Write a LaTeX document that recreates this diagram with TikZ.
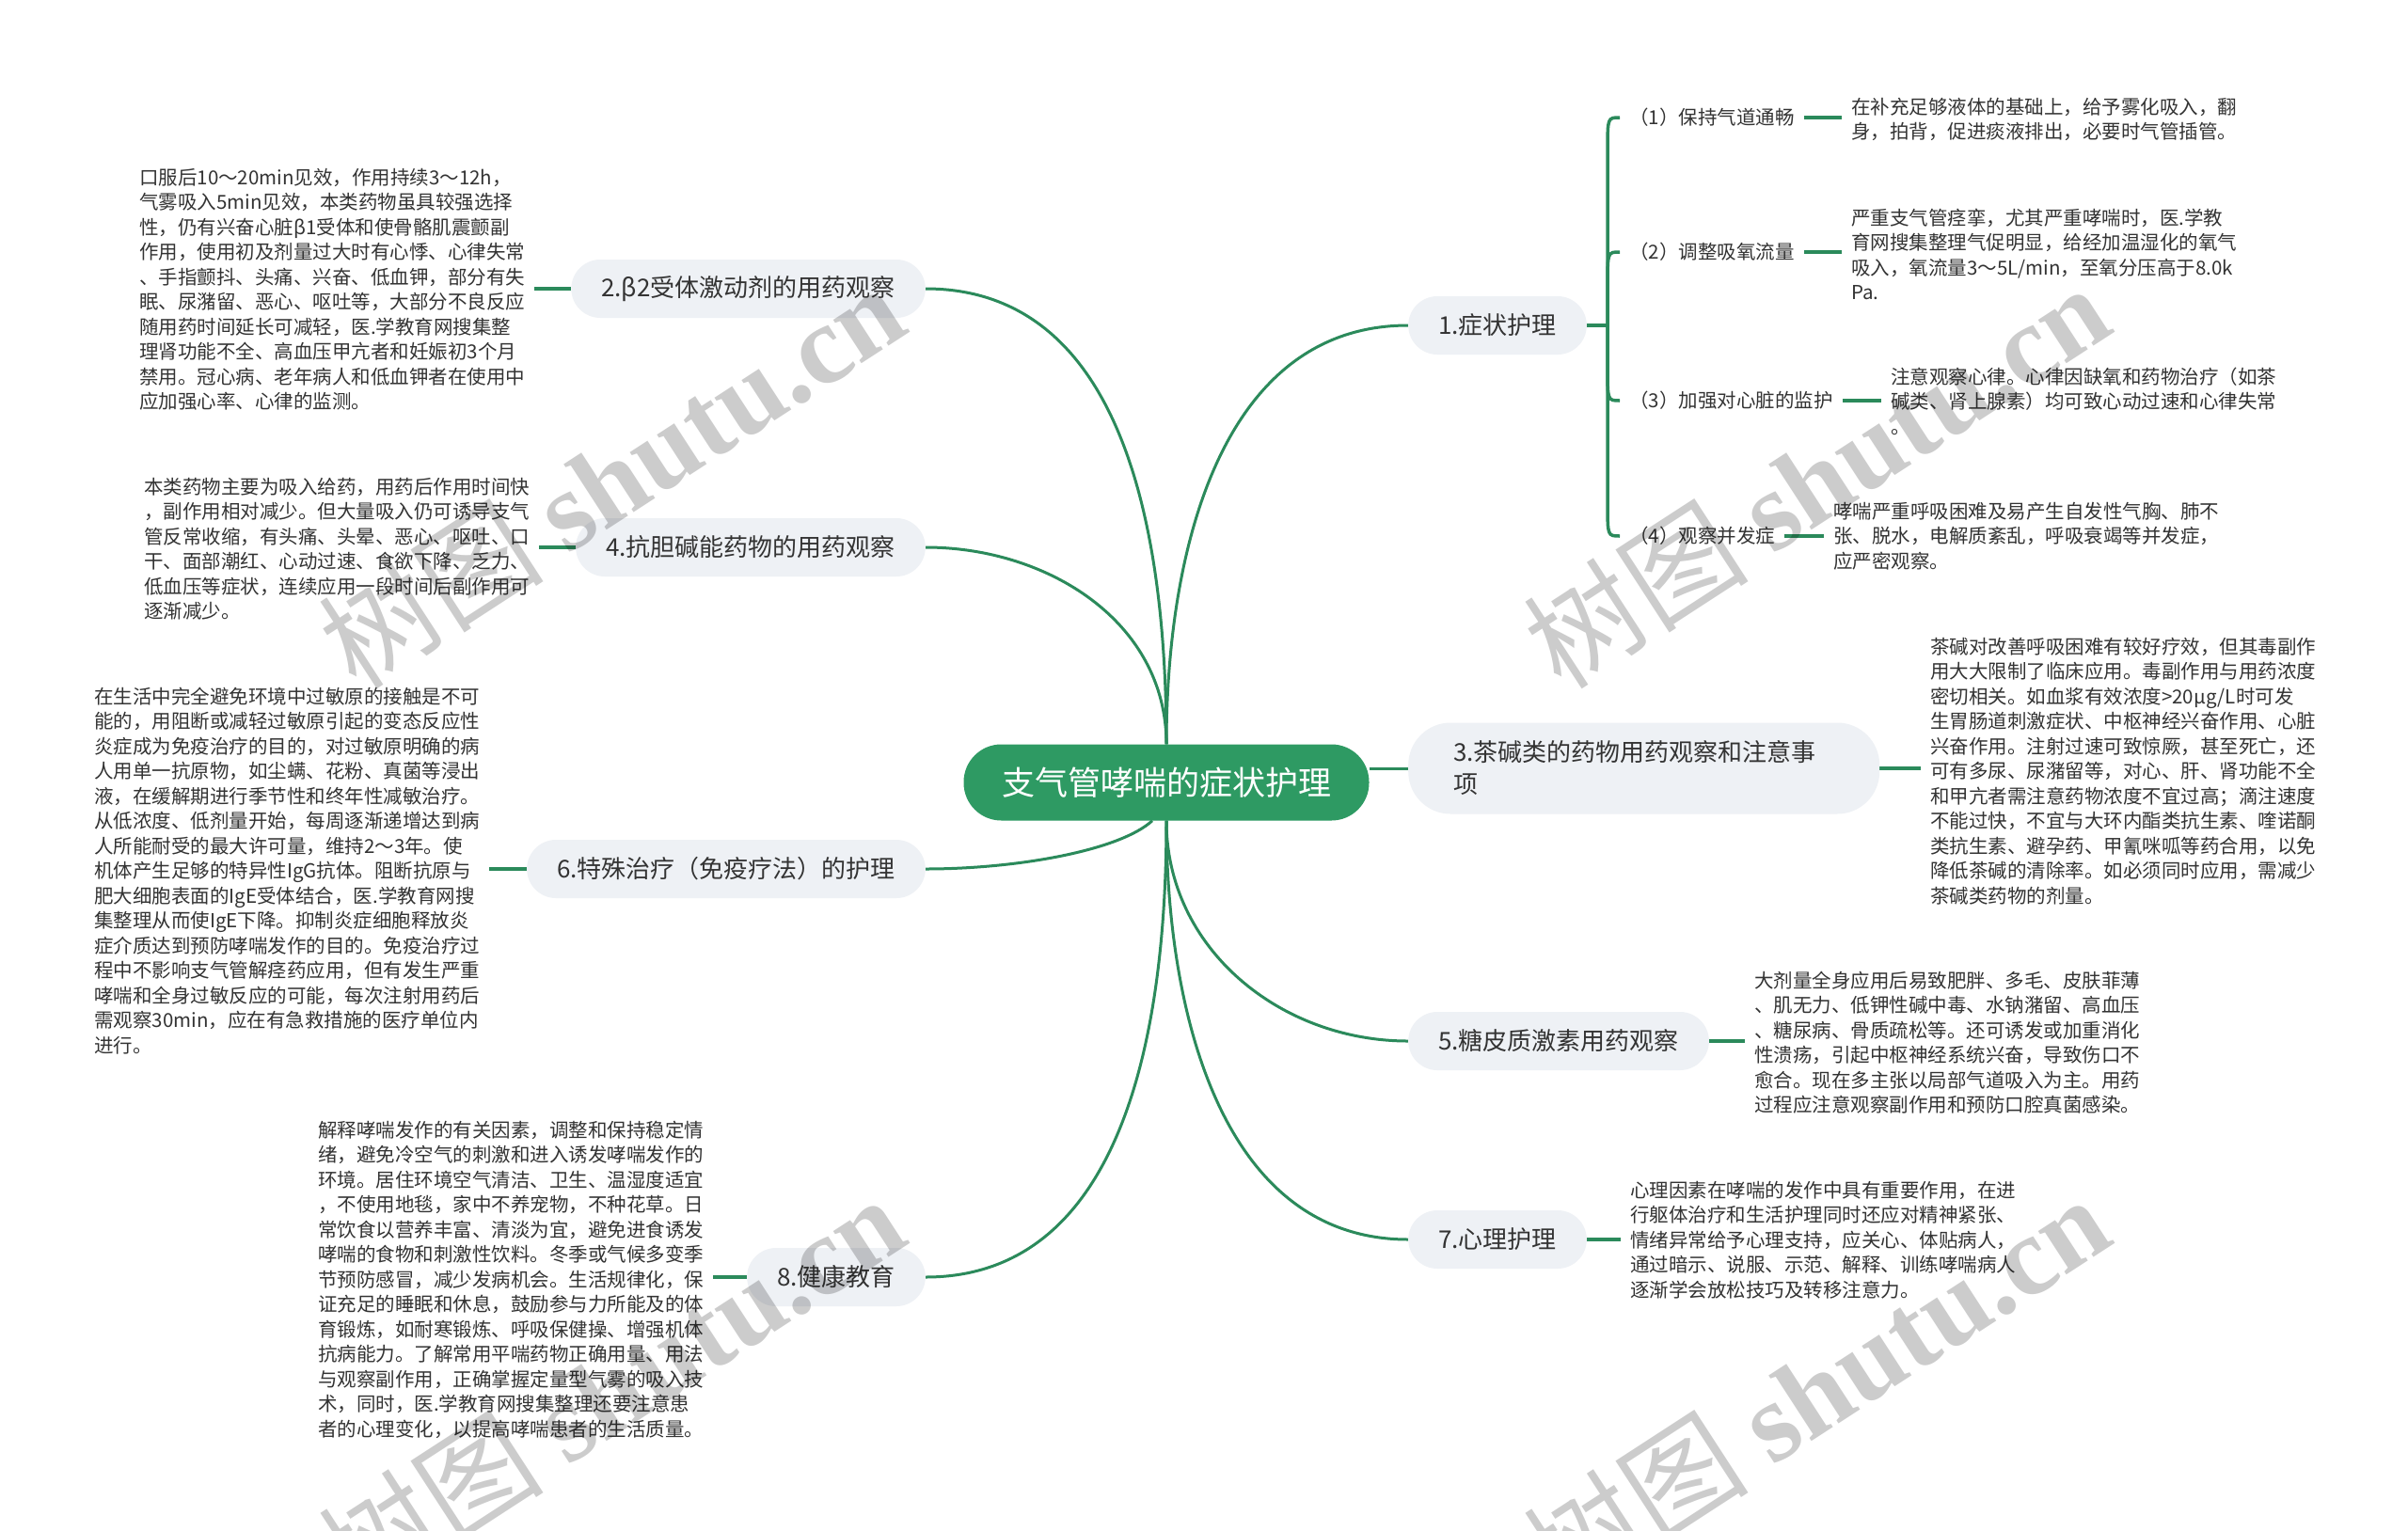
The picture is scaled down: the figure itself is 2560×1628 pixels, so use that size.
\documentclass[tikz,border=0pt]{standalone}
\usepackage{fontspec}
\setmainfont{Noto Sans CJK SC}
\newfontfamily\wmserif{Liberation Serif}
\usetikzlibrary{calc}
\definecolor{rootgreen}{HTML}{2E9A63}
\definecolor{linegreen}{HTML}{2B8A5B}
\definecolor{boxfill}{HTML}{EEF1F5}
\definecolor{txt}{HTML}{333333}
\newcommand{\bstrut}{\rule[-3.1pt]{0pt}{26pt}}
\newcommand{\cstrut}{\rule[-2.45pt]{0pt}{20.5pt}}
\newcommand{\rstrut}{\rule[-4.2pt]{0pt}{35pt}}
\newcommand{\mylines}[1]{\begin{tabular}[t]{@{}l@{}}#1\end{tabular}}
\pgfdeclarelayer{bg}
\pgfdeclarelayer{wmlayer}
\pgfsetlayers{bg,main,wmlayer}
\tikzset{
  rootbox/.style={fill=rootgreen, text=white, rounded corners=40pt, minimum width=431pt, minimum height=81pt, inner xsep=0pt, inner ysep=0pt, font=\fontsize{35}{42}\selectfont},
  branch/.style={fill=boxfill, text=txt, rounded corners=31pt, minimum height=62pt, inner xsep=32pt, inner ysep=0pt, font=\fontsize{26}{34}\selectfont},
  child/.style={text=txt, inner xsep=10pt, inner ysep=0pt, anchor=west, font=\fontsize{20.5}{26.5}\selectfont},
  leaf/.style={text=txt, inner xsep=10pt, inner ysep=0pt, anchor=base west, font=\fontsize{20.5}{26.5}\selectfont},
  conn/.style={draw=linegreen, line width=3pt},
  stub/.style={draw=linegreen, line width=3.5pt},
  wmark/.style={text=black, text opacity=0.2, rotate=33, inner sep=0pt, font=\fontsize{120}{140}\selectfont}
}
\begin{document}
\begin{tikzpicture}[x=1pt,y=-1pt]
\useasboundingbox (0,0) rectangle (2560,1628);
\begin{pgfonlayer}{bg}
\fill[white] (0,0) rectangle (2560,1628);
\end{pgfonlayer}

% root
\node[rootbox] (root) at (1240,832) {\rstrut 支气管哮喘的症状护理};

% branches
\node[branch, anchor=west] (n1) at (1497,346) {\bstrut 1.症状护理};
\node[branch, anchor=east] (n2) at (984,307) {\bstrut 2.β2受体激动剂的用药观察};
\node[branch, anchor=west, text width=405pt, align=left, rounded corners=45pt, minimum height=97pt, inner xsep=48pt] (n3) at (1497,817) {\bstrut 3.茶碱类的药物用药观察和注意事\\\bstrut 项};
\node[branch, anchor=east] (n4) at (984,582) {\bstrut 4.抗胆碱能药物的用药观察};
\node[branch, anchor=west] (n5) at (1497,1107) {\bstrut 5.糖皮质激素用药观察};
\node[branch, anchor=east] (n6) at (984,924) {\bstrut 6.特殊治疗（免疫疗法）的护理};
\node[branch, anchor=west] (n7) at (1497,1318) {\bstrut 7.心理护理};
\node[branch, anchor=east] (n8) at (984,1358) {\bstrut 8.健康教育};

% children of 1
\node[child] (c1) at (1722,125) {\cstrut （1）保持气道通畅};
\node[child] (c2) at (1722,268) {\cstrut （2）调整吸氧流量};
\node[child] (c3) at (1722,426) {\cstrut （3）加强对心脏的监护};
\node[child] (c4) at (1722,570) {\cstrut （4）观察并发症};

\node[leaf] (cl1) at (1958,121) {\mylines{在补充足够液体的基础上，给予雾化吸入，翻\\身，拍背，促进痰液排出，必要时气管插管。}};
\node[leaf] (cl2) at (1958,239) {\mylines{严重支气管痉挛，尤其严重哮喘时，医.学教\\育网搜集整理气促明显，给经加温湿化的氧气\\吸入，氧流量3～5L/min，至氧分压高于8.0k\\Pa.}};
\node[leaf] (cl3) at (2000,408) {\mylines{注意观察心律。心律因缺氧和药物治疗（如茶\\碱类、肾上腺素）均可致心动过速和心律失常\\。}};
\node[leaf] (cl4) at (1939,551) {\mylines{哮喘严重呼吸困难及易产生自发性气胸、肺不\\张、脱水，电解质紊乱，呼吸衰竭等并发症，\\应严密观察。}};

% leaves of main branches
\node[leaf] (l2) at (138,196) {\mylines{口服后10～20min见效，作用持续3～12h，\\气雾吸入5min见效，本类药物虽具较强选择\\性，仍有兴奋心脏β1受体和使骨骼肌震颤副\\作用，使用初及剂量过大时有心悸、心律失常\\、手指颤抖、头痛、兴奋、低血钾，部分有失\\眠、尿潴留、恶心、呕吐等，大部分不良反应\\随用药时间延长可减轻，医.学教育网搜集整\\理肾功能不全、高血压甲亢者和妊娠初3个月\\禁用。冠心病、老年病人和低血钾者在使用中\\应加强心率、心律的监测。}};
\node[leaf] (l4) at (143,525) {\mylines{本类药物主要为吸入给药，用药后作用时间快\\，副作用相对减少。但大量吸入仍可诱导支气\\管反常收缩，有头痛、头晕、恶心、呕吐、口\\干、面部潮红、心动过速、食欲下降、乏力、\\低血压等症状，连续应用一段时间后副作用可\\逐渐减少。}};
\node[leaf] (l6) at (90,748) {\mylines{在生活中完全避免环境中过敏原的接触是不可\\能的，用阻断或减轻过敏原引起的变态反应性\\炎症成为免疫治疗的目的，对过敏原明确的病\\人用单一抗原物，如尘螨、花粉、真菌等浸出\\液，在缓解期进行季节性和终年性减敏治疗。\\从低浓度、低剂量开始，每周逐渐递增达到病\\人所能耐受的最大许可量，维持2～3年。使\\机体产生足够的特异性IgG抗体。阻断抗原与\\肥大细胞表面的IgE受体结合，医.学教育网搜\\集整理从而使IgE下降。抑制炎症细胞释放炎\\症介质达到预防哮喘发作的目的。免疫治疗过\\程中不影响支气管解痉药应用，但有发生严重\\哮喘和全身过敏反应的可能，每次注射用药后\\需观察30min，应在有急救措施的医疗单位内\\进行。}};
\node[leaf] (l8) at (328,1209) {\mylines{解释哮喘发作的有关因素，调整和保持稳定情\\绪，避免冷空气的刺激和进入诱发哮喘发作的\\环境。居住环境空气清洁、卫生、温湿度适宜\\，不使用地毯，家中不养宠物，不种花草。日\\常饮食以营养丰富、清淡为宜，避免进食诱发\\哮喘的食物和刺激性饮料。冬季或气候多变季\\节预防感冒，减少发病机会。生活规律化，保\\证充足的睡眠和休息，鼓励参与力所能及的体\\育锻炼，如耐寒锻炼、呼吸保健操、增强机体\\抗病能力。了解常用平喘药物正确用量、用法\\与观察副作用，正确掌握定量型气雾的吸入技\\术，同时，医.学教育网搜集整理还要注意患\\者的心理变化，以提高哮喘患者的生活质量。}};
\node[leaf] (l3) at (2042,695) {\mylines{茶碱对改善呼吸困难有较好疗效，但其毒副作\\用大大限制了临床应用。毒副作用与用药浓度\\密切相关。如血浆有效浓度>20μg/L时可发\\生胃肠道刺激症状、中枢神经兴奋作用、心脏\\兴奋作用。注射过速可致惊厥，甚至死亡，还\\可有多尿、尿潴留等，对心、肝、肾功能不全\\和甲亢者需注意药物浓度不宜过高；滴注速度\\不能过快，不宜与大环内酯类抗生素、喹诺酮\\类抗生素、避孕药、甲氰咪呱等药合用，以免\\降低茶碱的清除率。如必须同时应用，需减少\\茶碱类药物的剂量。}};
\node[leaf] (l5) at (1855,1050) {\mylines{大剂量全身应用后易致肥胖、多毛、皮肤菲薄\\、肌无力、低钾性碱中毒、水钠潴留、高血压\\、糖尿病、骨质疏松等。还可诱发或加重消化\\性溃疡，引起中枢神经系统兴奋，导致伤口不\\愈合。现在多主张以局部气道吸入为主。用药\\过程应注意观察副作用和预防口腔真菌感染。}};
\node[leaf] (l7) at (1723,1273) {\mylines{心理因素在哮喘的发作中具有重要作用，在进\\行躯体治疗和生活护理同时还应对精神紧张、\\情绪异常给予心理支持，应关心、体贴病人，\\通过暗示、说服、示范、解释、训练哮喘病人\\逐渐学会放松技巧及转移注意力。}};

\begin{pgfonlayer}{bg}
% main curves
\draw[conn] (root.north) .. controls +(0,-201) and +(-201,0) .. (n1.west);
\draw[conn] (root.north) .. controls +(0,-215) and +(215,0) .. (n2.east);
\draw[conn] (root.north) .. controls +(0,-130) and +(130,0) .. (n4.east);
\draw[conn] (root.east |- n3.west) -- (n3.west);
\draw[conn] (root.south) .. controls +(0,136) and +(-136,0) .. (n5.west);
\draw[conn] (root.south) .. controls +(0,200) and +(-200,0) .. (n7.west);
\draw[conn] (root.south) .. controls +(0,214) and +(214,0) .. (n8.east);
\draw[conn] ([xshift=-15pt]root.south) .. controls +(-35,32) and +(96,0) .. (n6.east);
% stubs to leaves
\draw[stub] (n2.west) -- (n2.west -| l2.east);
\draw[stub] (n4.west) -- (n4.west -| l4.east);
\draw[stub] (n6.west) -- (n6.west -| l6.east);
\draw[stub] (n8.west) -- (n8.west -| l8.east);
\draw[stub] (n3.east) -- (n3.east -| l3.west);
\draw[stub] (n5.east) -- (n5.east -| l5.west);
\draw[stub] (n7.east) -- (n7.east -| l7.west);
% bracket of 1
\coordinate (sp) at ([xshift=22pt]n1.east);
\coordinate (k1) at (sp |- c1.west);
\coordinate (k2) at (sp |- c2.west);
\coordinate (k3) at (sp |- c3.west);
\coordinate (k4) at (sp |- c4.west);
\draw[stub] (n1.east) -- (sp);
\draw[stub] (sp) -- ($(k1)+(0,34)$) .. controls (k1) .. (c1.west);
\draw[stub] (sp) -- ($(k2)+(0,34)$) .. controls (k2) .. (c2.west);
\draw[stub] (sp) -- ($(k3)+(0,-34)$) .. controls (k3) .. (c3.west);
\draw[stub] (sp) -- ($(k4)+(0,-34)$) .. controls (k4) .. (c4.west);
\draw[stub] (c1.east) -- (c1.east -| cl1.west);
\draw[stub] (c2.east) -- (c2.east -| cl2.west);
\draw[stub] (c3.east) -- (c3.east -| cl3.west);
\draw[stub] (c4.east) -- (c4.east -| cl4.west);
\end{pgfonlayer}

% watermarks
\begin{pgfonlayer}{wmlayer}
\node[wmark] (wm1) at (650,506) {树图 {\wmserif\bfseries shutu.cn}};
\node[wmark] (wm2) at (1931,506) {树图 {\wmserif\bfseries shutu.cn}};
\node[wmark] (wm3) at (650,1475) {树图 {\wmserif\bfseries shutu.cn}};
\node[wmark] (wm4) at (1931,1475) {树图 {\wmserif\bfseries shutu.cn}};
\end{pgfonlayer}
\end{tikzpicture}
\end{document}
